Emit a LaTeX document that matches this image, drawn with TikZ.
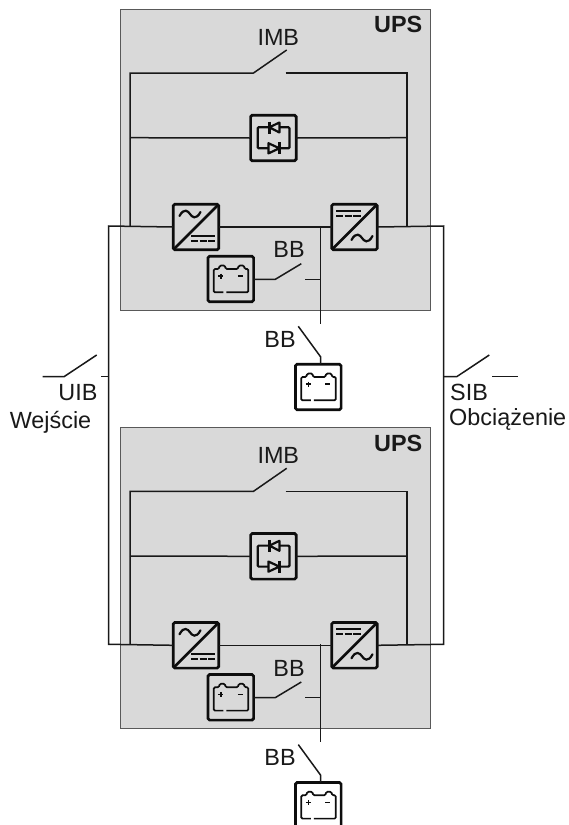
\documentclass[tikz,border=0pt]{standalone}
\usepackage{fontspec}
\setmainfont{Liberation Sans}
\tikzset{
  x=1pt,y=-1pt,
  wire/.style={draw=black!90,line width=1.5pt,line cap=butt},
  panel/.style={draw=black!65,fill=black!15,line width=1pt,minimum width=310pt,minimum height=300.5pt,outer sep=0pt,inner sep=0pt},
  iconbox/.style={draw=black!95,line width=2.7pt,rounded corners=1.6pt,minimum size=45.6pt,outer sep=0pt,inner sep=0pt},
  sym/.style={draw=black!95,line width=1.8pt},
  lbl/.style={font=\fontsize{23.4}{23.4}\selectfont,anchor=base,inner sep=0pt,text=black!90},
}
\newcommand{\wavesym}[2]{%
  \draw[sym,line width=2.2pt,line cap=round] (#1-10.5,#2+2) .. controls (#1-6,#2-6.5) and (#1-2,#2-3) .. (#1,#2) .. controls (#1+2,#2+3) and (#1+6,#2+6.5) .. (#1+10.5,#2-2);}
\newcommand{\dcsym}[3]{%
  \draw[sym,line width=2pt] (#1,#3) -- (#2,#3);
  \draw[sym,line width=2pt] (#1,#3+5) -- (#1+7,#3+5) (#1+8.5,#3+5) -- (#1+15.5,#3+5) (#1+17,#3+5) -- (#2,#3+5);}
\newcommand{\batsym}[1]{%
  \begin{scope}[shift={(#1.center)}]
    \draw[sym,line width=1.7pt,rounded corners=1.2pt] (-4.5,13.3) -- (17.5,13.3) -- (17.5,-10) -- (14,-10) -- (13,-13.5) -- (8,-13.5) -- (7,-10) -- (-5,-10) -- (-6,-13.5) -- (-11,-13.5) -- (-12,-10) -- (-17,-10) -- (-17,13.3) -- (-7.5,13.3);
    \draw[sym,line width=1.5pt] (-12.5,-3) -- (-7.5,-3) (-10,-5.5) -- (-10,-0.5) (7,-3) -- (12,-3);
  \end{scope}}
\begin{document}
\begin{tikzpicture}
\clip (0,0) rectangle (568,825);
\fill[white] (0,0) rectangle (568,825);
\foreach \s/\o in {a/0,b/418.3}{
\begin{scope}[shift={(0,\o)}]
  \node[panel] (panel\s) at (275.5,159.75) {};
  \node[lbl,anchor=base east] (ups\s) at (422.5,32.7) {\textbf{UPS}};
  \node[lbl] (imb\s) at (278.3,45) {IMB};
  \node[lbl] (bbi\s) at (289,257.7) {BB};
  \node[lbl] (bbo\s) at (280,347.3) {BB};
  % icon boxes
  \node[iconbox] (byp\s) at (273.4,138) {};
  \node[iconbox] (rect\s) at (196,227) {};
  \node[iconbox] (inv\s) at (354.5,227) {};
  \node[iconbox] (bati\s) at (230.8,279) {};
  \node[iconbox,fill=white] (bato\s) at (318.3,387) {};
  % junctions
  \coordinate (busL\s) at (108.5,226);
  \coordinate (busR\s) at (443.5,226);
  \coordinate (tapL\s) at (130,226);
  \coordinate (tapR\s) at (407,226);
  \coordinate (cornL\s) at (130,73);
  \coordinate (cornR\s) at (407,73);
  \coordinate (midL\s) at (130,137.7);
  \coordinate (midR\s) at (407,137.7);
  \coordinate (imbA\s) at (253.5,73);
  \coordinate (imbB\s) at (286.7,50);
  \coordinate (imbC\s) at (285.7,73);
  \coordinate (tapB\s) at (320.5,226);
  \coordinate (tapE\s) at (320.5,324);
  \coordinate (tapS\s) at (320.5,279.3);
  \coordinate (swA\s) at (275.3,279.3);
  \coordinate (swB\s) at (301.3,263.7);
  \coordinate (swC\s) at (305.3,279.3);
  \coordinate (bbA\s) at (298.3,326.3);
  \coordinate (bbB\s) at (320.5,356.7);
  \coordinate (bbC\s) at (320.5,364);
  % wiring inside the unit
  \draw[wire] (tapL\s) -- (cornL\s) -- (imbA\s) -- (imbB\s);
  \draw[wire] (imbC\s) -- (cornR\s) -- (tapR\s);
  \draw[wire] (midL\s) -- (byp\s.west);
  \draw[wire] (byp\s.east) -- (midR\s);
  \draw[wire] (rect\s.east) -- (inv\s.west);
  \draw[wire] (tapB\s) -- (tapE\s);
  \draw[wire] (bati\s.east |- swA\s) -- (swA\s) -- (swB\s);
  \draw[wire] (swC\s) -- (tapS\s);
  \draw[wire] (bbA\s) -- (bbB\s) -- (bbC\s);
  % rectifier symbol
  \begin{scope}[shift={(rect\s.center)}]
    \draw[sym,line width=2.6pt] (-22.5,22.5) -- (22.5,-22.5);
    \wavesym{-6}{-13}
    \dcsym{-5}{19}{9}
  \end{scope}
  % inverter symbol
  \begin{scope}[shift={(inv\s.center)}]
    \draw[sym,line width=2.6pt] (-22.5,22.5) -- (22.5,-22.5);
    \wavesym{7.5}{11}
    \dcsym{-18.5}{6}{-16}
  \end{scope}
  % static bypass symbol
  \begin{scope}[shift={(byp\s.center)}]
    \draw[sym,line width=2.2pt,rounded corners=1pt] (-15.7,-10.7) rectangle (16,10.3);
    \draw[sym,fill=black!15,line width=2.2pt,line join=round] (6,-15.5) -- (6,-5.5) -- (-4,-10.7) -- cycle;
    \draw[sym,line width=2.2pt] (-4,-16.5) -- (-4,-4.5);
    \draw[sym,fill=black!15,line width=2.2pt,line join=round] (-5,5.2) -- (-5,15.4) -- (6,10.3) -- cycle;
    \draw[sym,line width=2.2pt] (6,4.3) -- (6,16.3);
  \end{scope}
  \batsym{bati\s}
  \batsym{bato\s}
\end{scope}
}
% outer bus, both units
\draw[wire] (recta.west) -- (busLa) -- (busLb) -- (rectb.west);
\draw[wire] (inva.east) -- (busRa) -- (busRb) -- (invb.east);
% UIB
\coordinate (uibA) at (42.7,376.7);
\coordinate (uibB) at (64,376.7);
\coordinate (uibC) at (96.7,355);
\coordinate (uibD) at (101,376.7);
\coordinate (uibE) at (108.5,376.7);
\draw[wire] (uibA) -- (uibB) -- (uibC);
\draw[wire] (uibD) -- (uibE);
\node[lbl] (uib) at (78,400) {UIB};
\node[lbl] (wej) at (50.5,428) {Wejście};
% SIB
\coordinate (sibA) at (443.5,376.7);
\coordinate (sibB) at (456.7,376.7);
\coordinate (sibC) at (489.3,355);
\coordinate (sibD) at (492.3,376.7);
\coordinate (sibE) at (517.7,376.7);
\draw[wire] (sibA) -- (sibB) -- (sibC);
\draw[wire] (sibD) -- (sibE);
\node[lbl,anchor=base west] (sib) at (450,400) {SIB};
\node[lbl,anchor=base west] (obc) at (449,425) {Obciążenie};
\end{tikzpicture}
\end{document}
